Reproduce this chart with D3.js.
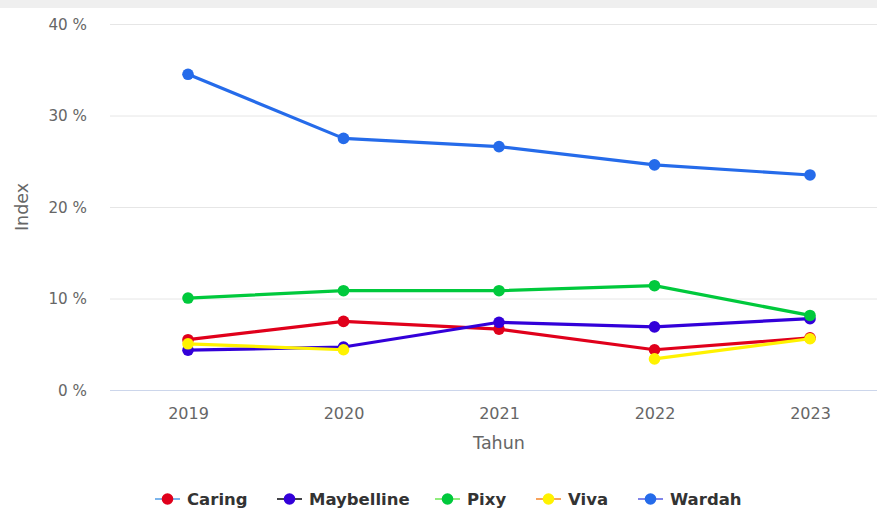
<!DOCTYPE html>
<html><head><meta charset="utf-8">
<script src="https://cdn.jsdelivr.net/npm/d3@7"></script>
<style>body{margin:0;background:#fff;}svg{display:block;font-family:"DejaVu Sans",sans-serif;}</style>
</head><body><svg id="c" width="877" height="508"></svg>
<script>
const years = ["2019","2020","2021","2022","2023"];
const seriesNames = ["Caring","Maybelline","Pixy","Viva","Wardah"];
const caring = [5.5, 7.5, 6.65, 4.4, 5.7];
const maybelline = [4.35, 4.7, 7.4, 6.9, 7.8];
const pixy = [10.05, 10.85, 10.85, 11.4, 8.15];
const viva = [5.05, 4.4, null, 3.4, 5.6];
const wardah = [34.5, 27.5, 26.6, 24.6, 23.5];
const yTicks = [0, 10, 20, 30, 40];
const markerColors = ["#e0001b", "#3300d9", "#00c93c", "#fff200", "#256bea"];
const legendLineColors = ["#7cb5ec", "#434348", "#90ed7d", "#f7a35c", "#8085e9"];
const allValues = [caring, maybelline, pixy, viva, wardah];

const svg = d3.select("#c");
svg.append("rect").attr("x",0).attr("y",0).attr("width",877).attr("height",8).attr("fill","#efefef");

const x = d3.scalePoint().domain(years).range([188, 810]);
const y = d3.scaleLinear().domain([0, 40]).range([390, 24]);
const left = 110, right = 877;

svg.append("g").selectAll("line").data(yTicks.filter(t=>t>0)).join("line")
  .attr("x1", left).attr("x2", right)
  .attr("y1", d=>y(d)+0.5).attr("y2", d=>y(d)+0.5)
  .attr("stroke", "#e6e6e6").attr("stroke-width", 1);

const yAxis = d3.axisLeft(y).tickValues(yTicks).tickSize(0).tickPadding(0).tickFormat(d => d + " %");
const gy = svg.append("g").attr("transform", `translate(87,0)`).call(yAxis);
gy.select(".domain").remove();
gy.selectAll("text").attr("font-size", 15.2).attr("fill", "#666").attr("font-family","DejaVu Sans").attr("dy","0.35em");

const xAxis = d3.axisBottom(x).tickSize(0).tickPadding(0);
const gx = svg.append("g").attr("transform", `translate(0,390)`).call(xAxis);
gx.select(".domain").remove();
gx.selectAll("text").attr("font-size", 16).attr("fill", "#666").attr("font-family","DejaVu Sans").attr("y", 23).attr("dy","0.35em");
svg.append("line").attr("x1", left).attr("x2", right).attr("y1", 390.5).attr("y2", 390.5).attr("stroke", "#ccd6eb");

svg.append("text").attr("x", 499).attr("y", 443).attr("dy","0.35em").attr("text-anchor","middle")
  .attr("font-size", 17.5).attr("fill","#666").text("Tahun");
svg.append("text").attr("transform","translate(22,207) rotate(-90)").attr("dy","0.35em").attr("text-anchor","middle")
  .attr("font-size", 17.5).attr("fill","#666").text("Index");

const line = d3.line().defined(d => d.v !== null).x(d => x(d.year)).y(d => y(d.v));
allValues.forEach((vals, i) => {
  const data = years.map((yr, j) => ({year: yr, v: vals[j]}));
  const g = svg.append("g");
  g.append("path").datum(data).attr("d", line).attr("fill","none")
    .attr("stroke", markerColors[i]).attr("stroke-width", 3.2).attr("stroke-linejoin","round").attr("stroke-linecap","round");
  g.selectAll("circle").data(data.filter(d => d.v !== null)).join("circle")
    .attr("cx", d => x(d.year)).attr("cy", d => y(d.v)).attr("r", 5.8).attr("fill", markerColors[i]);
});

const legendX = [155, 277, 435, 536, 638];
const lg = svg.append("g");
seriesNames.forEach((name, i) => {
  const gx0 = legendX[i];
  const ly = 499;
  lg.append("line").attr("x1", gx0).attr("x2", gx0 + 25).attr("y1", ly).attr("y2", ly)
    .attr("stroke", legendLineColors[i]).attr("stroke-width", 2);
  lg.append("circle").attr("cx", gx0 + 12.5).attr("cy", ly).attr("r", 5.8).attr("fill", markerColors[i]);
  lg.append("text").attr("x", gx0 + 32).attr("y", 505).attr("font-size", 16.5).attr("font-weight","bold")
    .attr("fill","#333").text(name);
});
</script></body></html>
